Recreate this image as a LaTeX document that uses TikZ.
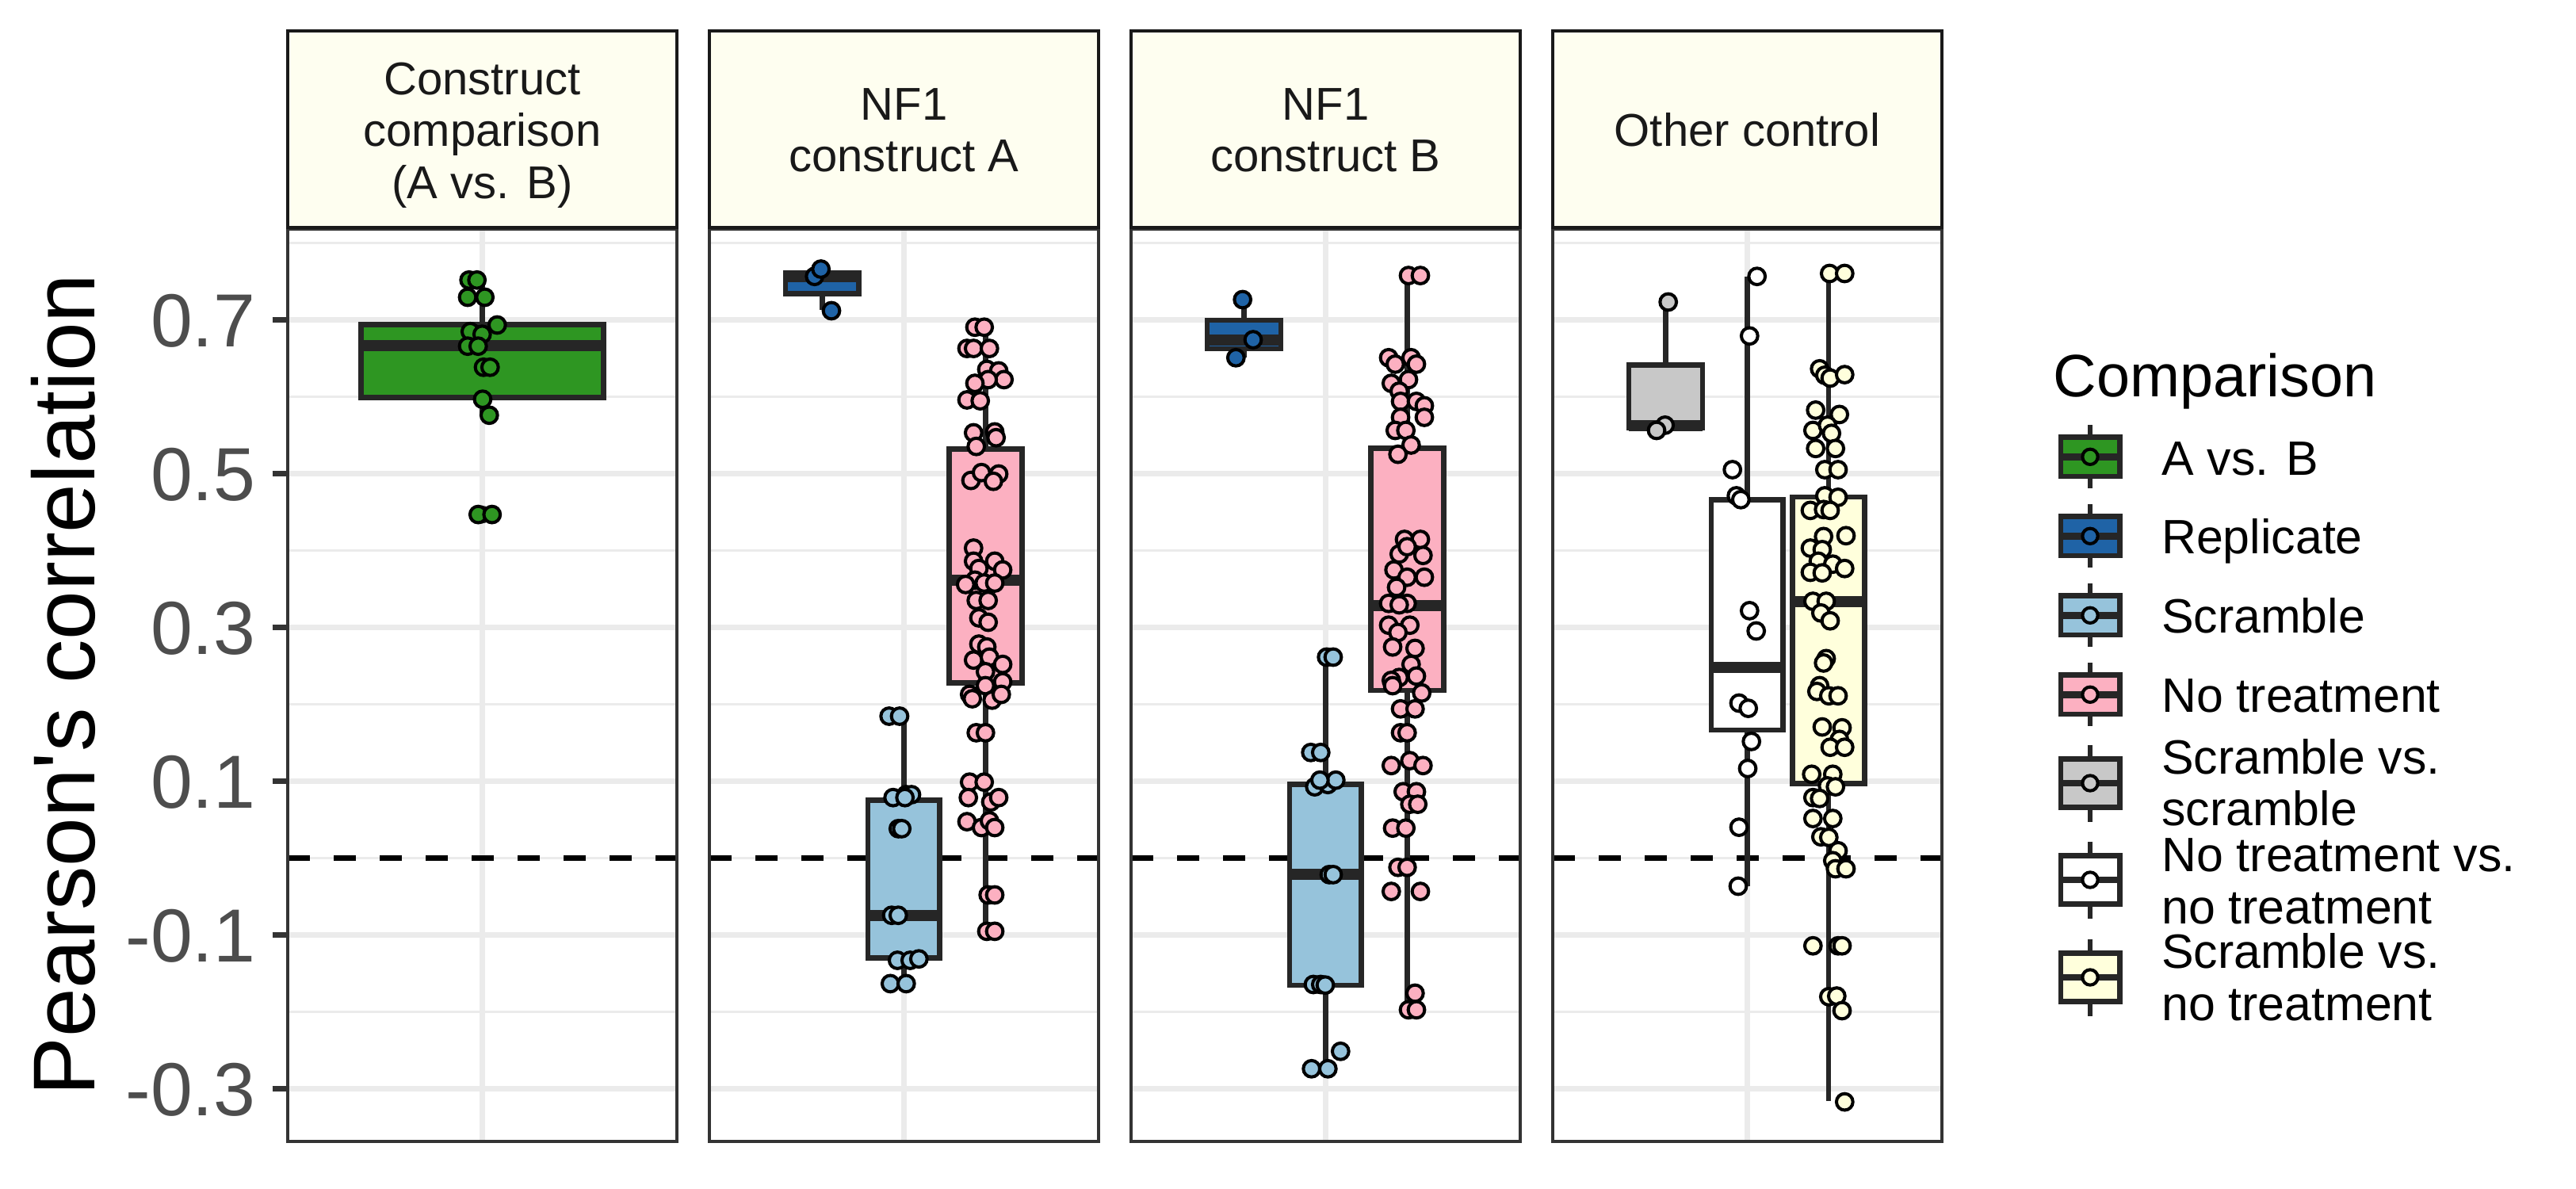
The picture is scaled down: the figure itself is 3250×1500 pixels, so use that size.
\documentclass[tikz,border=0pt]{standalone}
\usepackage{fontspec}
\setmainfont{Liberation Sans}
\newfontfamily\plainsans{Liberation Sans}
\definecolor{cgreen}{HTML}{2E9622}
\definecolor{cblue}{HTML}{1F63A6}
\definecolor{clblue}{HTML}{96C3DB}
\definecolor{cpink}{HTML}{FCB0C1}
\definecolor{cgray}{HTML}{C8C8C8}
\definecolor{cyellow}{HTML}{FFFFDC}
\definecolor{boxc}{HTML}{262626}
\definecolor{gridc}{HTML}{EBEBEB}
\definecolor{framec}{HTML}{333333}
\definecolor{tickc}{HTML}{4D4D4D}
\definecolor{stripc}{HTML}{FEFEF0}
\newcommand\plotbox[8]{%
  \pgfmathsetmacro\bxc{(#1+#2)/2}%
  \draw[whisk] (\bxc,#6) -- (\bxc,#3);
  \draw[whisk] (\bxc,#5) -- (\bxc,#7);
  \draw[boxst,fill=#8] (#1,#3) rectangle (#2,#5);
  \draw[medst] (#1,#4) -- (#2,#4);
}
\newcommand\pts[2]{\foreach \px/\py in {#2} {\draw[ptst,fill=#1] (\px,\py) circle[radius=2.95pt];}}
\newcommand\legkey[4]{%
  \draw[whisk] (2637,{#1-#3}) -- (2637,{#1+#3});
  \draw[boxst,fill=#4] (2600,{#1-#2}) rectangle (2674.5,{#1+#2});
  \draw[line width=2.4pt,draw=boxc] (2600,#1) -- (2674.5,#1);
  \draw[ptst,fill=#4] (2637,#1) circle[radius=2.75pt];
}
\begin{document}
\begin{tikzpicture}[x=0.01cm,y=-0.01cm,
  gridminor/.style={line width=1pt,draw=gridc},
  gridmajor/.style={line width=2pt,draw=gridc},
  zeroline/.style={line width=1.88pt,draw=black,dash pattern=on 8pt off 8.5pt},
  boxst/.style={line width=1.9pt,draw=boxc},
  medst/.style={line width=4pt,draw=boxc},
  whisk/.style={line width=1.9pt,draw=boxc},
  ptst/.style={line width=1.15pt,draw=black},
  framest/.style={line width=1pt,draw=framec},
  stripst/.style={line width=1.1pt,draw=black!90,fill=stripc},
  tickst/.style={line width=1.9pt,draw=framec},
  ticklab/.style={inner sep=0pt,text=tickc,font=\fontsize{27}{32}\selectfont},
  striplab/.style={inner sep=0pt,text=black!90,anchor=base,font=\fontsize{16.5}{20}\selectfont},
  leglab/.style={inner sep=0pt,anchor=base west,font=\fontsize{17.3}{21}\selectfont},
  legtitle/.style={inner sep=0pt,anchor=base west,font=\fontsize{21.5}{26}\selectfont}]
\useasboundingbox[fill=white] (0,0) rectangle (3250,1500);
% panel backgrounds and grids
\foreach \L in {363,895,1427,1959}{
  \pgfmathsetmacro\R{\L+491}
  \pgfmathsetmacro\C{\L+245.5}
  \foreach \g in {306.5,500.5,694.5,888.5,1082.5,1276.5} {\draw[gridminor] (\L,\g) -- (\R,\g);}
  \foreach \g in {403.5,597.5,791.5,985.5,1179.5,1373.5} {\draw[gridmajor] (\L,\g) -- (\R,\g);}
  \draw[gridmajor] (\C,289) -- (\C,1440);
  \draw[zeroline] (\L,1082.5) -- (\R,1082.5);
}
% panel 1
\plotbox{455.8}{761.3}{409.3}{435.7}{501.3}{354}{523.8}{cgreen}
\fill[boxc] (608.5,649.1) circle[radius=3.2pt];
\pts{cgreen}{591.7/353.3,601.7/353.3,590/375,611.7/375,627.3/410,593.3/418.3,608.3/421.7,590/436.7,603.3/436.7,610/463.3,618.3/463.3,608.9/503.7,617.3/523.8,603.3/649.1,620.8/649.1}
% panel 2
\plotbox{991}{1083.7}{344.6}{349}{370.3}{344.6}{390.8}{cblue}
\plotbox{1095}{1185.7}{1009.5}{1154.7}{1208.2}{903.5}{1240.9}{clblue}
\plotbox{1197.3}{1289.4}{566.5}{731.9}{861.3}{412.8}{1174.9}{cpink}
\pts{cblue}{1027.7/348.7,1035.7/339.5,1049/392}
\pts{clblue}{1121.7/903.5,1135/903.5,1126.7/1006.2,1143.3/1002.5,1150/1002.5,1141.7/1006.2,1133.3/1045.4,1137.7/1045.4,1125/1154.7,1133.3/1154.7,1132.3/1211.5,1148.3/1211.5,1159.3/1209.7,1123.3/1240.9,1143.3/1240.9}
\pts{cpink}{1230/412.8,1241.7/412.8,1220/439.6,1228.3/439.6,1248.3/439.6,1245/466,1260/467.9,1266.7/478.9,1246.7/478.9,1230/483.6,1220/504.5,1236.7/505.6,1228.3/546,1255/544.9,1231.7/563.2,1256.7/552.2,1225/606.1,1238.3/596.2,1260/598,1253.3/607.2,1228.3/691.5,1255/708,1265/719,1228.3/708,1235/717.2,1230/731.9,1218.3/737.4,1241.7/735.5,1255/735.5,1231.7/757.5,1246.7/757.5,1235/779.5,1246.7/785,1235/812.6,1245/816.2,1228.3/832.7,1248.3/829,1265/838.2,1243.3/847.4,1265/860.2,1223.3/876,1226.7/881.5,1243.3/865,1251.7/883.3,1263.3/876,1231.7/924.4,1243.3/924.4,1223.3/986.7,1241.7/986.7,1221.7/1006.2,1250/1011.7,1260/1006.2,1220/1036.6,1238.3/1044,1248.3/1035.5,1255/1044,1246.7/1129,1255/1129,1245/1174.9,1255/1174.9}
% panel 3
\plotbox{1523}{1616}{404}{429}{440}{378}{451.3}{cblue}
\plotbox{1627}{1717.7}{989.3}{1103.4}{1243.1}{829}{1348.3}{clblue}
\plotbox{1729.3}{1821.4}{565.4}{764.1}{870.9}{347.6}{1273.9}{cpink}
\pts{cblue}{1567.7/378,1581/428.6,1559.3/451.3}
\pts{clblue}{1673.7/829,1682/829,1653.7/949.3,1666.3/949.3,1658.7/992.6,1675.3/989.7,1685.3/984.2,1665.3/984.2,1677/1103.4,1682/1103.4,1657/1242,1666.3/1242,1672/1242.7,1691.3/1326.3,1654.7/1348.3,1675.3/1348.3}
\pts{cpink}{1777/347.6,1792/347.6,1752/451.3,1760.3/459.4,1780.3/451.3,1787/459.4,1755.3/483.6,1777/478.9,1765.3/493.5,1767/506.4,1787/506.4,1797/511.9,1767/526.5,1797/526.5,1760.3/543,1773.7/543,1780.3/561.4,1763.7/573.1,1772/680.5,1792/680.5,1765.3/698.9,1775.3/689.7,1795.3/700.7,1758.7/719,1797/728.2,1775.3/728.2,1762/741,1752/761.2,1775.3/761.2,1765.3/763,1752/788.7,1778.7/788.7,1763.7/797.9,1757/816.2,1785.3/818,1780.3/838.2,1765.3/854.7,1787/852.9,1755.3/858.4,1757/865,1793.7/874.2,1767/894.3,1785.3/894.3,1767/924.4,1775.3/924.4,1755.3/965.8,1778.7/959.6,1795.3/965.8,1770.3/998.8,1787/998.8,1778.7/1014.6,1788.7/1014.6,1757/1044.7,1773.7/1044.7,1763.7/1094.2,1775.3/1094.2,1755.3/1124.6,1792/1124.6,1785.3/1253,1777/1273.9,1787/1273.9}
% panel 4
\plotbox{2055}{2148}{460.2}{537}{539.7}{381}{539.7}{cgray}
\plotbox{2159}{2249.7}{630.7}{841.9}{921.1}{349}{1118}{white}
\plotbox{2261.3}{2352.4}{627}{759.4}{988.2}{345}{1389.4}{cyellow}
\pts{cgray}{2104.7/381,2100.7/536.4,2090/543}
\pts{white}{2216.7/348.7,2207.3/423.8,2185.7/592.5,2190.7/625.5,2196.3/630.3,2207.3/770.4,2215.7/796,2194/887,2205.7/893.6,2209.7/935.4,2205/969.5,2194/1043.6,2193/1118}
\pts{cyellow}{2308.3/345,2327.3/345,2295.7/465.3,2302.3/473.4,2309/477,2327.3/472.6,2290.7/517.4,2320.7/522.9,2287.3/543,2305.7/536.4,2310.7/546.7,2290.7/565.8,2315.7/565.8,2302.3/592.5,2319/592.5,2302.3/625.5,2319/627.4,2284/643.9,2300.7/642.8,2309/643.9,2300.7/676.9,2329/675.8,2284/691.5,2299/693.4,2294/708,2312.3/711.7,2327.3/717.2,2284/722,2299/722.7,2287.3/758.6,2304/758.6,2297.3/773.3,2309/783.2,2304/830.9,2300.7/836.4,2295.7/865,2292.3/872.3,2307.3/877.8,2319/877.8,2299/917.1,2324/918.2,2320.7/932.8,2309/942.7,2327.3/942.7,2285.7/976.8,2312.3/976.8,2305.7/991.5,2315.7/992.6,2287.3/1006.2,2295.7/1007.3,2287.3/1032.6,2312.3/1032.6,2297.3/1055.7,2307.3/1056.4,2319/1073.3,2312.3/1085.8,2315.7/1096,2329/1096,2287.3/1193.2,2319/1193.2,2324/1193.2,2307.3/1257.4,2317.3/1256.6,2324/1275,2327.3/1390.1}
% frames and strips
\foreach \L in {363,895,1427,1959}{
  \draw[framest] (\L,289) rectangle ({\L+491},1440);
  \draw[stripst] (\L,39) rectangle ({\L+491},287);
}
% strip labels
\node[striplab] (s1a) at (608.5,119.5) {Construct};
\node[striplab] (s1b) at (608.5,185) {comparison};
\node[striplab] (s1c) at (608.5,250.5) {(A vs. B)};
\node[striplab] (s2a) at (1140.5,151.5) {NF1};
\node[striplab] (s2b) at (1140.5,217) {construct A};
\node[striplab] (s3a) at (1672.5,151.5) {NF1};
\node[striplab] (s3b) at (1672.5,217) {construct B};
\node[striplab] (s4a) at (2204.5,184.5) {Other control};
% y axis
\foreach \g in {403.5,597.5,791.5,985.5,1179.5,1373.5} {\draw[tickst] (343.7,\g) -- (363,\g);}
\node[ticklab,anchor=base east] (t07) at (322.7,437.5) {0.7};
\node[ticklab,anchor=base east] (t05) at (322.7,631.5) {0.5};
\node[ticklab,anchor=base east] (t03) at (322.7,825.5) {0.3};
\node[ticklab,anchor=base east] (t01) at (322.7,1019.5) {0.1};
\node[ticklab,anchor=base east] (tm01) at (322.7,1213.5) {-0.1};
\node[ticklab,anchor=base east] (tm03) at (322.7,1407.5) {-0.3};
\node[rotate=90,anchor=base,inner sep=0pt,font=\plainsans\fontsize{31.5}{36}\selectfont] (ytitle) at (119.3,864) {Pearson's correlation};
% legend
\node[legtitle] (legt) at (2590,500) {Comparison};
\legkey{576.3}{24.7}{40}{cgreen}
\legkey{676.3}{24.7}{40}{cblue}
\legkey{776.3}{24.7}{40}{clblue}
\legkey{876.3}{24.7}{40}{cpink}
\legkey{988}{30.5}{48.5}{cgray}
\legkey{1110}{30.5}{48.5}{white}
\legkey{1233}{30.5}{48.5}{cyellow}
\node[leglab] (l1) at (2726.5,599) {A vs. B};
\node[leglab] (l2) at (2726.5,698.3) {Replicate};
\node[leglab] (l3) at (2726.5,798.3) {Scramble};
\node[leglab] (l4) at (2726.5,898.3) {No treatment};
\node[leglab] (l5a) at (2726.5,976.7) {Scramble vs.};
\node[leglab] (l5b) at (2726.5,1041.7) {scramble};
\node[leglab] (l6a) at (2726.5,1099.3) {No treatment vs.};
\node[leglab] (l6b) at (2726.5,1165) {no treatment};
\node[leglab] (l7a) at (2726.5,1221.7) {Scramble vs.};
\node[leglab] (l7b) at (2726.5,1287.3) {no treatment};
\end{tikzpicture}
\end{document}
